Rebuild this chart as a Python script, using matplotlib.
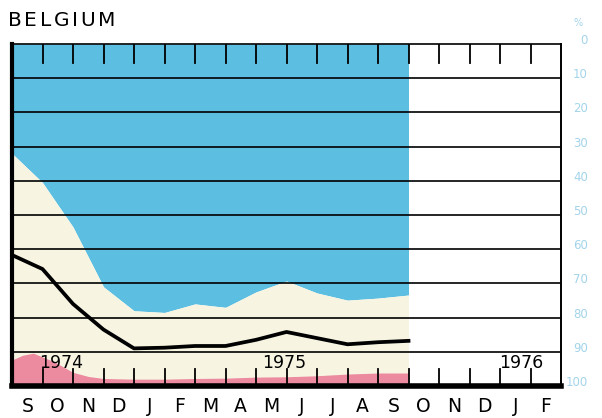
import matplotlib
matplotlib.use("Agg")
import matplotlib.pyplot as plt

# ---------------- data ----------------
months = ["S", "O", "N", "D", "J", "F", "M", "A", "M", "J", "J", "A", "S", "O", "N", "D", "J", "F"]
years = ["1974", "1975", "1976"]
year_pos = [0.89, 8.2, 15.97]          # month-scale position of year labels
pct_ticks = [0, 10, 20, 30, 40, 50, 60, 70, 80, 90, 100]

# month boundaries Sep 1974 .. end Sep 1975
t = [0, 1, 2, 3, 4, 5, 6, 7, 8, 9, 10, 11, 12, 13]
blue_bottom = [32, 40.5, 53.5, 71, 78, 78.5, 76, 77, 72.5, 69.3, 72.8, 74.9, 74.3, 73.4]
black_line = [61.7, 65.8, 76, 83.5, 89, 88.8, 88.3, 88.3, 86.5, 84.2, 86, 87.8, 87.2, 86.8]
pink_t = [0, 0.35, 0.7, 1, 1.4, 2, 2.5, 3, 4, 5, 6, 7, 8, 9, 10, 11, 12, 13]
pink_top = [92.4, 91, 90.4, 91.5, 93, 96, 97.2, 97.8, 98, 98, 97.8, 97.7, 97.4, 97.3, 97, 96.5, 96.2, 96.2]

BLUE = "#5cbee1"
CREAM = "#f7f5e2"
PINK = "#ec8aa0"
LABEL_BLUE = "#a3d4ea"

W, H = 602, 418
fig = plt.figure(figsize=(W / 100, H / 100), dpi=100)
fig.patch.set_facecolor("white")
ax = fig.add_axes([12 / W, 1 - 386 / H, (561 - 12) / W, (386 - 44) / H])
ax.set_xlim(0, 18)
ax.set_ylim(100, 0)
ax.set_facecolor("white")

ax.fill_between(t, 0, blue_bottom, color=BLUE, lw=0, zorder=1)
ax.fill_between(t, blue_bottom, 100, color=CREAM, lw=0, zorder=1)
ax.fill_between(pink_t, pink_top, 100, color=PINK, lw=0, zorder=2)

for g in range(10, 100, 10):
    ax.axhline(g, color="black", lw=1.2, zorder=3)

ax.plot(t, black_line, color="black", lw=2.7, zorder=5, solid_joinstyle="round")

for i in range(1, 18):
    ax.plot([i, i], [0, 5.6], color="black", lw=1.3, zorder=4)
    ax.plot([i, i], [95, 100], color="black", lw=1.3, zorder=4)

ax.set_xticks([])
ax.set_yticks([])
for side, w in [("left", 3.0), ("bottom", 4.0), ("top", 1.2), ("right", 1.4)]:
    ax.spines[side].set_linewidth(w)
    ax.spines[side].set_color("black")
    ax.spines[side].set_zorder(6)

for yl, xp in zip(years, year_pos):
    ax.text(xp, 93.3, yl, fontsize=12.5, ha="left", va="center", color="black", zorder=7,
            family="DejaVu Sans")

for i, m in enumerate(months):
    ax.text(i + 0.5, 106, m, fontsize=13.5, ha="center", va="center", clip_on=False,
            color="black", family="DejaVu Sans")

for v in pct_ticks:
    ax.text(18 + 27 / 30.5, v - 1.0, str(v), fontsize=8.5, ha="right", va="center",
            color=LABEL_BLUE, clip_on=False, family="DejaVu Sans")
fig.text(578 / W, 1 - 23 / H, "%", fontsize=7, ha="center", va="center", color=LABEL_BLUE)

# letter-spaced title
renderer = fig.canvas.get_renderer()
x = 8.0
for ch in "BELGIUM":
    tx = fig.text(x / W, 1 - 20 / H, ch, fontsize=14.5, ha="left", va="center",
                  color="black", family="DejaVu Sans")
    x += tx.get_window_extent(renderer).width + 2.6

fig.savefig("out.png", dpi=100)
